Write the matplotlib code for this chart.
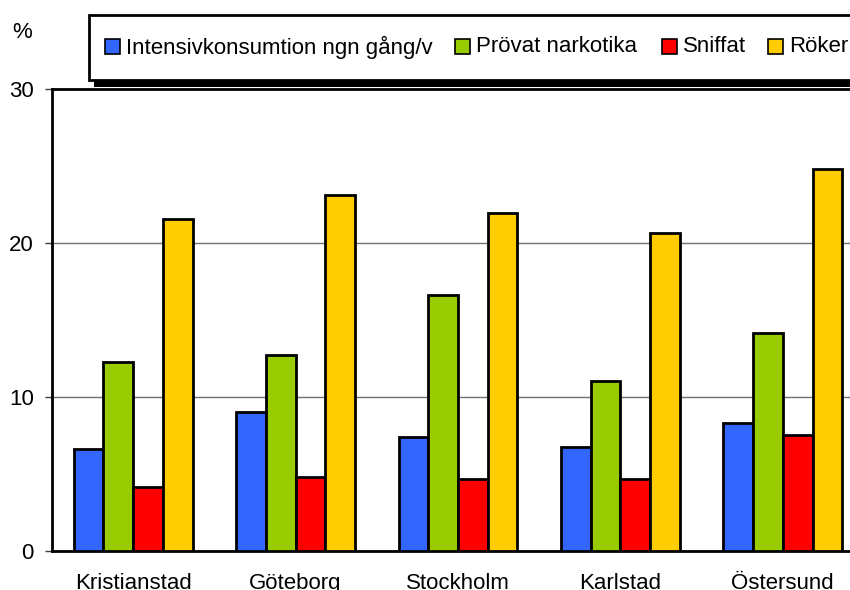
import matplotlib
matplotlib.use("Agg")
import matplotlib.pyplot as plt
from matplotlib.patches import Rectangle
import numpy as np

plt.rcParams['font.family'] = ['Liberation Sans', 'DejaVu Sans']

cities = ["Kristianstad", "Göteborg", "Stockholm", "Karlstad", "Östersund"]
series_names = ["Intensivkonsumtion ngn gång/v", "Prövat narkotika", "Sniffat", "Röker"]
intensiv = [6.6, 9.0, 7.4, 6.75, 8.3]
narkotika = [12.3, 12.75, 16.6, 11.05, 14.15]
sniffat = [4.15, 4.8, 4.7, 4.7, 7.55]
roker = [21.55, 23.1, 21.95, 20.65, 24.8]
yticks = [0, 10, 20, 30]

colors = ["#3366FF", "#99CC00", "#FF0000", "#FFCC00"]
values = [intensiv, narkotika, sniffat, roker]

W, H = 850, 590
FS = 16
fig = plt.figure(figsize=(W / 100, H / 100), dpi=100)

# plot area; the right end runs past the figure edge
left, right, top, bottom = 52, 864, 89, 551
ax = fig.add_axes([left / W, 1 - bottom / H, (right - left) / W, (bottom - top) / H])

x = np.arange(len(cities))
bw = 0.183
for i, (vals, c) in enumerate(zip(values, colors)):
    ax.bar(x + (i - 1.5) * bw, vals, width=bw, color=c, edgecolor="black",
           linewidth=2.0, zorder=3)

ax.set_xlim(-0.5, len(cities) - 0.5)
ax.set_ylim(0, 30)
ax.set_yticks(yticks)
ax.set_yticklabels([str(t) for t in yticks], fontsize=FS)
ax.set_xticks(x)
ax.set_xticklabels(cities, fontsize=FS)
ax.tick_params(axis="x", length=0, pad=16)
ax.tick_params(axis="y", length=5, width=1, pad=8, direction="out", color="#404040")
ax.yaxis.grid(True, color="#707070", linewidth=1.0, zorder=0)
for s in ["left", "bottom", "top"]:
    ax.spines[s].set_linewidth(2)
    ax.spines[s].set_color("black")
ax.spines["right"].set_visible(False)

fig.text(12 / W, 1 - 33 / H, "%", fontsize=FS, va="center", ha="left")

# legend box with a drop shadow
def fx(px):
    return px / W

def fy(py):
    return 1 - py / H

fig.patches.append(Rectangle((fx(94), fy(87)), fx(800), (87 - 22) / H,
                             transform=fig.transFigure, facecolor="black",
                             edgecolor="none", zorder=1))
fig.patches.append(Rectangle((fx(89), fy(80)), fx(800), (80 - 15) / H,
                             transform=fig.transFigure, facecolor="white",
                             edgecolor="black", linewidth=2, zorder=2))

marker_x = [105, 455, 662, 768]
ly = 47
for mx, name, c in zip(marker_x, series_names, colors):
    fig.patches.append(Rectangle((fx(mx), fy(ly + 7)), 15 / W, 15 / H,
                                 transform=fig.transFigure, facecolor=c,
                                 edgecolor="black", linewidth=1.2, zorder=3))
    fig.text(fx(mx + 21), fy(ly), name, fontsize=FS, va="center", ha="left", zorder=4)

fig.savefig("out.png", dpi=100)
